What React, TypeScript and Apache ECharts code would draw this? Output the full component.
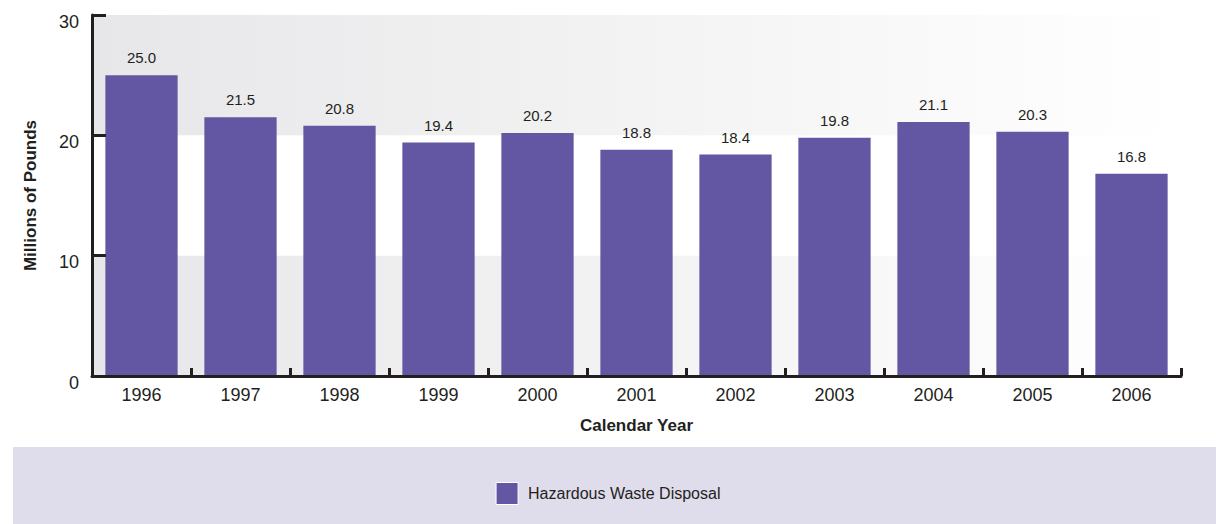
import React, { useEffect, useRef } from "react";
import * as echarts from "echarts";

const categories = ["1996", "1997", "1998", "1999", "2000", "2001", "2002", "2003", "2004", "2005", "2006"];
const disposalValues = [25.0, 21.5, 20.8, 19.4, 20.2, 18.8, 18.4, 19.8, 21.1, 20.3, 16.8];
const seriesName = "Hazardous Waste Disposal";
const yAxisTitle = "Millions of Pounds";
const xAxisTitle = "Calendar Year";

const INK = "#231f20";
const BAR = "#6356a2";
const SANS = "Liberation Sans, Arial, sans-serif";

export default function App() {
  const ref = useRef<HTMLDivElement>(null);
  useEffect(() => {
    if (!ref.current) return;
    const chart = echarts.init(ref.current, undefined, { renderer: "svg" });
    const bandFill = new echarts.graphic.LinearGradient(0, 0, 1, 0, [
      { offset: 0, color: "#e7e7e9" },
      { offset: 1, color: "#ffffff" },
    ]);
    chart.setOption({
      animation: false,
      backgroundColor: "#ffffff",
      graphic: [
        {
          type: "rect",
          z: -10,
          shape: { x: 13, y: 447, width: 1203, height: 77 },
          style: { fill: "#dfdcec" },
        },
      ],
      grid: { left: 92, right: 35, top: 15, bottom: 148, containLabel: false },
      legend: {
        show: true,
        left: "center",
        top: 477,
        icon: "rect",
        itemWidth: 22,
        itemHeight: 22,
        itemGap: 20,
        textStyle: { fontFamily: SANS, fontSize: 16, color: INK, padding: [0, 0, 0, 5] },
        itemStyle: { borderColor: "#ffffff", borderWidth: 1 },
        data: [seriesName],
      },
      xAxis: {
        type: "category",
        data: categories,
        boundaryGap: true,
        z: 10,
        name: xAxisTitle,
        nameLocation: "middle",
        nameGap: 41,
        nameTextStyle: { fontFamily: SANS, fontWeight: "bold", fontSize: 17, color: INK },
        axisLine: { show: true, lineStyle: { color: INK, width: 3 } },
        axisTick: { show: true, inside: true, length: 8, lineStyle: { color: INK, width: 3 }, alignWithLabel: false },
        axisLabel: { fontFamily: SANS, fontSize: 18, color: INK, margin: 10 },
        splitLine: { show: false },
      },
      yAxis: {
        type: "value",
        min: 0,
        max: 30,
        interval: 10,
        z: 10,
        name: yAxisTitle,
        nameLocation: "middle",
        nameGap: 53,
        nameRotate: 90,
        nameTextStyle: { fontFamily: SANS, fontWeight: "bold", fontSize: 17, color: INK },
        axisLine: { show: true, lineStyle: { color: INK, width: 3 } },
        axisTick: { show: true, inside: true, length: 14, lineStyle: { color: INK, width: 3 } },
        axisLabel: { fontFamily: SANS, fontSize: 18, color: INK, margin: 13, verticalAlign: "top", lineHeight: 13 },
        splitLine: { show: false },
      },
      series: [
        {
          type: "line",
          data: [],
          z: 0,
          silent: true,
          markArea: {
            silent: true,
            itemStyle: { color: bandFill },
            data: [
              [{ yAxis: 20 }, { yAxis: 30 }],
              [{ yAxis: 0 }, { yAxis: 10 }],
            ],
          },
        },
        {
          name: seriesName,
          type: "bar",
          data: disposalValues,
          barWidth: "73%",
          z: 3,
          itemStyle: { color: BAR },
          label: {
            show: true,
            position: "top",
            distance: 10,
            fontFamily: SANS,
            fontSize: 15,
            color: INK,
            formatter: (p: any) => Number(p.value).toFixed(1),
          },
        },
      ],
    });
    return () => chart.dispose();
  }, []);
  return <div ref={ref} style={{ position: "fixed", left: 0, top: 0, width: 1216, height: 524 }} />;
}
